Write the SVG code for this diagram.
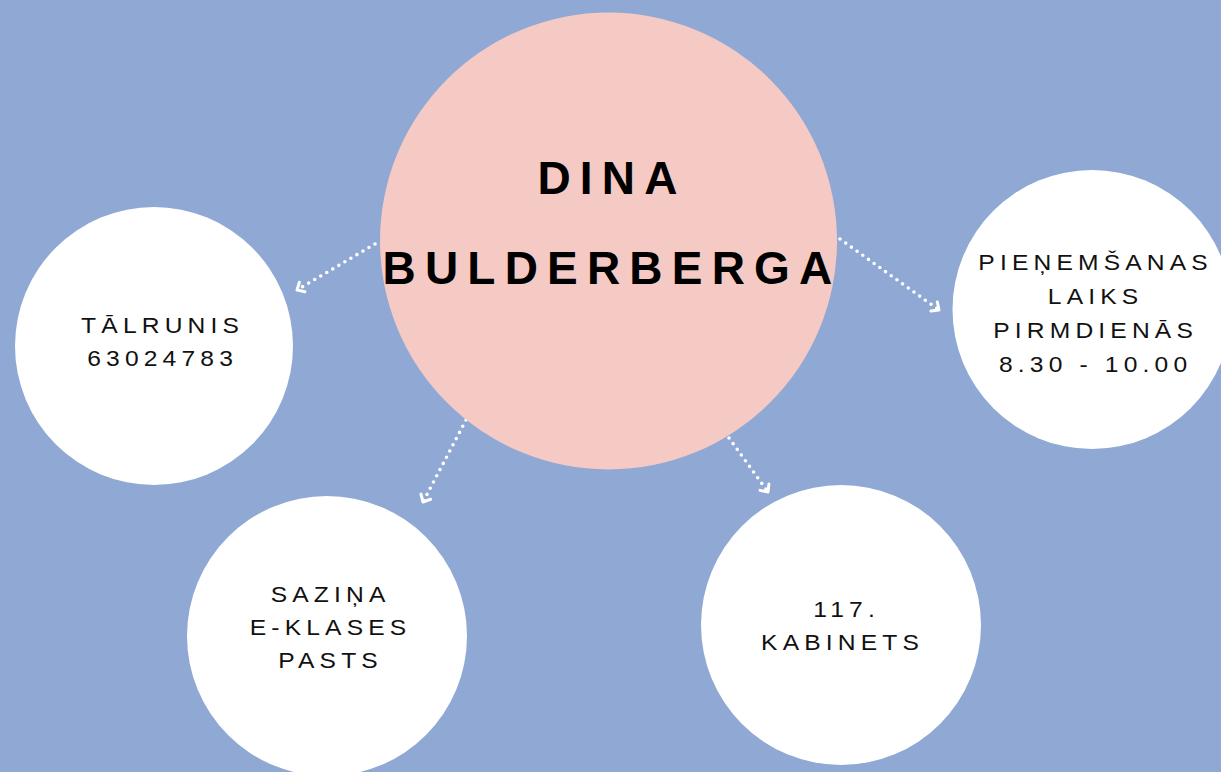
<svg xmlns="http://www.w3.org/2000/svg" width="1221" height="772" viewBox="0 0 1221 772">
<style>
.bg{fill:#8FA8D4}
.hub{fill:#F6CAC4}
.leaf{fill:#FFFFFF}
.title{font-family:"Liberation Sans",Arial,sans-serif;font-weight:bold;font-size:46px;letter-spacing:9.2px;fill:#000;text-anchor:middle}
.lbl{font-family:"Liberation Sans",Arial,sans-serif;font-size:22px;letter-spacing:4.6px;fill:#111;text-anchor:middle}
.conn{fill:none;stroke:#FFFFFF;stroke-width:3.6;stroke-linecap:round;stroke-dasharray:0 7;marker-end:url(#chev)}
</style>
<defs>
<marker id="chev" markerUnits="userSpaceOnUse" viewBox="-10 -8 12 16" refX="0" refY="0" markerWidth="12" markerHeight="16" orient="auto">
<path d="M -6 -5.5 L 0 0 L -6 5.5" fill="none" stroke="#FFFFFF" stroke-width="3" stroke-linecap="round" stroke-linejoin="round"/>
</marker>
</defs>
<rect class="bg" x="0" y="0" width="1221" height="772"/>
<g id="connectors">
<path class="conn" d="M 375 244 L 297 290"/>
<path class="conn" d="M 840 239 L 939 310"/>
<path class="conn" d="M 466 420 L 423 502"/>
<path class="conn" d="M 729 438 L 768 492"/>
</g>
<g id="node-center">
<circle class="hub" cx="608.5" cy="241" r="228.5"/>
<text class="title" x="612" y="194">DINA</text>
<text class="title" x="612" y="284">BULDERBERGA</text>
</g>
<g id="node-talrunis">
<circle class="leaf" cx="154" cy="346" r="139"/>
<text class="lbl" transform="translate(162.6,333) scale(1.12,1)">TĀLRUNIS</text>
<text class="lbl" transform="translate(162.6,366) scale(1.12,1)">63024783</text>
</g>
<g id="node-pienemsanas">
<circle class="leaf" cx="1092" cy="309.5" r="139.5"/>
<text class="lbl" transform="translate(1095.6,270) scale(1.12,1)">PIEŅEMŠANAS</text>
<text class="lbl" transform="translate(1095.6,304) scale(1.12,1)">LAIKS</text>
<text class="lbl" transform="translate(1095.6,338) scale(1.12,1)">PIRMDIENĀS</text>
<text class="lbl" transform="translate(1095.6,372) scale(1.12,1)">8.30 - 10.00</text>
</g>
<g id="node-sazina">
<circle class="leaf" cx="327" cy="636" r="140"/>
<text class="lbl" transform="translate(330.6,602) scale(1.12,1)">SAZIŅA</text>
<text class="lbl" transform="translate(330.6,635) scale(1.12,1)">E-KLASES</text>
<text class="lbl" transform="translate(330.6,668) scale(1.12,1)">PASTS</text>
</g>
<g id="node-kabinets">
<circle class="leaf" cx="841" cy="625" r="140"/>
<text class="lbl" transform="translate(846.6,617) scale(1.12,1)">117.</text>
<text class="lbl" transform="translate(842.6,650) scale(1.12,1)">KABINETS</text>
</g>
</svg>
